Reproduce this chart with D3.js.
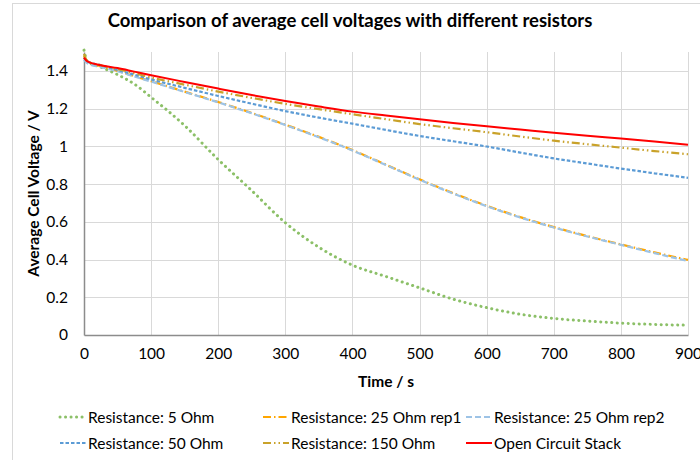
<!DOCTYPE html>
<html>
<head>
<meta charset="utf-8">
<script src="https://cdn.jsdelivr.net/npm/d3@7"></script>
<style>
    body { margin: 0; background: #fff; }
    svg { font-family: Lato, "Open Sans", sans-serif; }
</style>
</head>
<body>
<div id="chart"></div>
<script>
    // data
    var time = [0, 5, 25, 50, 75, 100, 150, 200, 250, 300, 350, 400, 450, 500, 550, 600, 650, 700, 750, 800, 850, 900];

    var ohm5 = [1.51, 1.45, 1.42, 1.38, 1.33, 1.26, 1.11, 0.93, 0.765, 0.595, 0.465, 0.37, 0.31, 0.25, 0.19, 0.145, 0.11, 0.088, 0.074, 0.063, 0.056, 0.052];
    var ohm25rep1 = [1.48, 1.45, 1.425, 1.40, 1.372, 1.345, 1.29, 1.235, 1.177, 1.115, 1.05, 0.98, 0.903, 0.825, 0.752, 0.685, 0.625, 0.572, 0.524, 0.48, 0.438, 0.398];
    var ohm25rep2 = [1.46, 1.44, 1.42, 1.398, 1.37, 1.343, 1.288, 1.233, 1.175, 1.113, 1.048, 0.978, 0.901, 0.823, 0.75, 0.683, 0.623, 0.57, 0.522, 0.478, 0.434, 0.392];
    var ohm50 = [1.47, 1.45, 1.43, 1.405, 1.38, 1.355, 1.31, 1.267, 1.226, 1.187, 1.152, 1.12, 1.087, 1.055, 1.027, 0.999, 0.967, 0.936, 0.909, 0.882, 0.857, 0.833];
    var ohm150 = [1.49, 1.45, 1.43, 1.41, 1.388, 1.365, 1.327, 1.29, 1.257, 1.225, 1.197, 1.17, 1.144, 1.118, 1.096, 1.075, 1.052, 1.03, 1.011, 0.993, 0.975, 0.958];
    var openCircuit = [1.47, 1.45, 1.43, 1.415, 1.396, 1.377, 1.341, 1.306, 1.272, 1.24, 1.211, 1.184, 1.163, 1.143, 1.124, 1.106, 1.089, 1.072, 1.056, 1.041, 1.025, 1.008];

    var seriesNames = ["Resistance: 5 Ohm", "Resistance: 25 Ohm rep1", "Resistance: 25 Ohm rep2",
        "Resistance: 50 Ohm", "Resistance: 150 Ohm", "Open Circuit Stack"];
    var xTicks = [0, 100, 200, 300, 400, 500, 600, 700, 800, 900];
    var yTicks = [0, 0.2, 0.4, 0.6, 0.8, 1, 1.2, 1.4];

    var series = [
        {name: seriesNames[0], values: ohm5, color: "#8cc068", dash: "0.1,5.4", width: 3, cap: "round"},
        {name: seriesNames[1], values: ohm25rep1, color: "#ffa600", dash: "8,3,1.5,3", width: 2.2, cap: "butt"},
        {name: seriesNames[2], values: ohm25rep2, color: "#9dc3e6", dash: "6,3", width: 2.2, cap: "butt"},
        {name: seriesNames[3], values: ohm50, color: "#5b9bd5", dash: "3.5,2", width: 2.2, cap: "butt"},
        {name: seriesNames[4], values: ohm150, color: "#c9a22a", dash: "8,3,1.5,3,1.5,3", width: 2.2, cap: "butt"},
        {name: seriesNames[5], values: openCircuit, color: "#ff0000", dash: null, width: 2, cap: "butt"}
    ];

    var W = 700, H = 460;
    var plot = {left: 84, right: 688, top: 52, bottom: 335};

    var svg = d3.select("#chart").append("svg")
        .attr("width", W)
        .attr("height", H);

    // chart frame (only top and left edges are visible)
    svg.append("rect")
        .attr("x", 12.5).attr("y", 3.5)
        .attr("width", W).attr("height", H)
        .attr("fill", "none")
        .attr("stroke", "#d9d9d9");

    var x = d3.scaleLinear().domain([0, 900]).range([plot.left, plot.right]);
    var y = d3.scaleLinear().domain([0, 1.5]).range([plot.bottom, plot.top]);

    // gridlines
    svg.append("g").selectAll("line")
        .data(yTicks.slice(1))
        .enter().append("line")
        .attr("x1", plot.left).attr("x2", plot.right)
        .attr("y1", d => Math.round(y(d)) + 0.5).attr("y2", d => Math.round(y(d)) + 0.5)
        .attr("stroke", "#d9d9d9");

    svg.append("g").selectAll("line")
        .data(xTicks.slice(1))
        .enter().append("line")
        .attr("x1", d => Math.round(x(d)) + 0.5).attr("x2", d => Math.round(x(d)) + 0.5)
        .attr("y1", plot.top).attr("y2", plot.bottom)
        .attr("stroke", "#d9d9d9");

    // axes
    var xAxis = d3.axisBottom(x).tickValues(xTicks).tickSize(0).tickPadding(13).tickFormat(d3.format("d"));
    var gx = svg.append("g")
        .attr("transform", "translate(0," + plot.bottom + ")")
        .call(xAxis);

    var yAxis = d3.axisLeft(y).tickValues(yTicks).tickSize(0).tickPadding(16).tickFormat(d => d === 0 || d === 1 ? d : d3.format(".1f")(d));
    var gy = svg.append("g")
        .attr("transform", "translate(" + plot.left + ",0)")
        .call(yAxis);

    [gx, gy].forEach(function (g) {
        g.select(".domain").attr("stroke", "#8c8c8c").attr("stroke-width", 1.5);
        g.selectAll("text").attr("font-size", 15.5).attr("fill", "#000").attr("font-family", "Lato");
    });

    // lines
    var line = d3.line()
        .x((d, i) => x(time[i]))
        .y(d => y(d))
        .curve(d3.curveMonotoneX);

    svg.append("g").selectAll("path")
        .data(series)
        .enter().append("path")
        .attr("d", d => line(d.values))
        .attr("fill", "none")
        .attr("stroke", d => d.color)
        .attr("stroke-width", d => d.width)
        .attr("stroke-linecap", d => d.cap)
        .attr("stroke-dasharray", d => d.dash);

    // titles
    svg.append("text")
        .text("Comparison of average cell voltages with different resistors")
        .attr("x", 350).attr("y", 27)
        .attr("text-anchor", "middle")
        .attr("font-size", 18.5)
        .attr("font-weight", "bold");

    svg.append("text")
        .text("Time / s")
        .attr("x", (plot.left + plot.right) / 2).attr("y", 387)
        .attr("text-anchor", "middle")
        .attr("font-size", 15.5)
        .attr("font-weight", "bold");

    svg.append("text")
        .text("Average Cell Voltage / V")
        .attr("transform", "translate(39," + ((plot.top + plot.bottom) / 2) + ") rotate(-90)")
        .attr("text-anchor", "middle")
        .attr("font-size", 15.5)
        .attr("font-weight", "bold");

    // legend: 3 columns, 2 rows
    var legendX = [60, 263, 466], legendY = [417, 443];
    var items = svg.append("g").selectAll("g")
        .data(series)
        .enter().append("g")
        .attr("transform", (d, i) => "translate(" + legendX[i % 3] + "," + legendY[Math.floor(i / 3)] + ")");

    items.append("line")
        .attr("x1", 0).attr("x2", 26)
        .attr("stroke", d => d.color)
        .attr("stroke-width", d => d.width)
        .attr("stroke-linecap", d => d.cap)
        .attr("stroke-dasharray", d => d.dash);

    items.append("text")
        .text(d => d.name)
        .attr("x", 28).attr("y", 5.5)
        .attr("font-size", 15.5);
</script>
</body>
</html>
